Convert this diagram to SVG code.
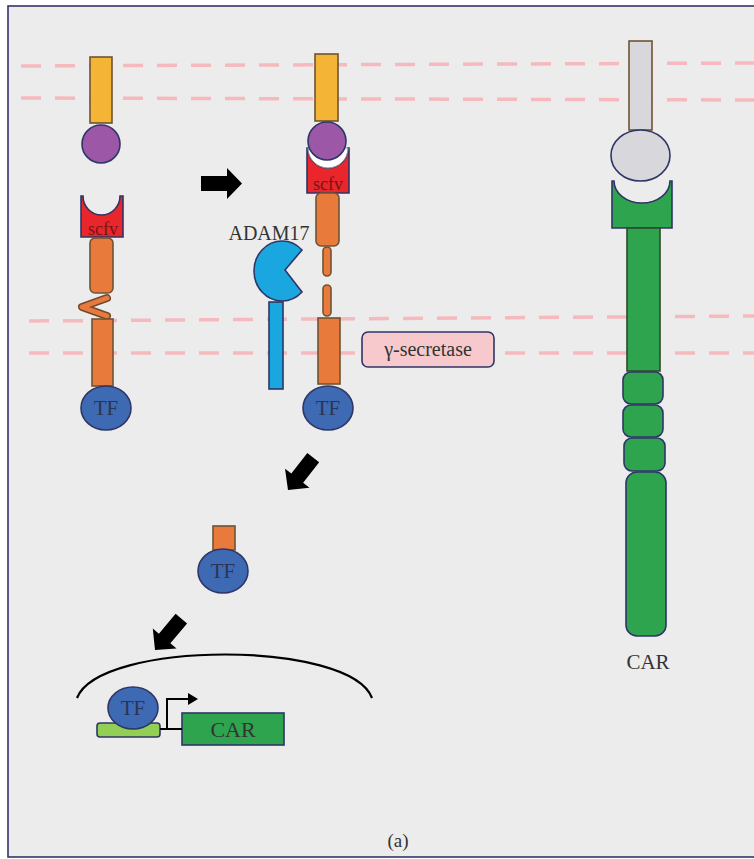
<svg xmlns="http://www.w3.org/2000/svg" width="754" height="859" viewBox="0 0 754 859">
  <style>
    .mem { stroke: #f6b9bd; stroke-width: 3.5; stroke-dasharray: 20 14; fill: none; }
    .edge { stroke: #2f3566; stroke-width: 1.6; }
    .brown { stroke: #6e5434; stroke-width: 1.6; }
    .yellow { fill: #f4b537; }
    .purple { fill: #9c58a6; }
    .red { fill: #e8262b; }
    .orange { fill: #e87a3c; }
    .tf { fill: #3d6ab3; }
    .adam { fill: #1aa7df; }
    .green { fill: #2fa44f; }
    .lgreen { fill: #92cf55; }
    .grey { fill: #d8d8dc; }
    .serif { font-family: "Liberation Serif", "Times New Roman", serif; }
    .tftext { font-size: 21px; fill: #2b3552; text-anchor: middle; }
    .scfv { font-size: 18px; fill: #7a1414; text-anchor: middle; }
    .label { font-size: 20px; fill: #333; text-anchor: middle; }
    .arrow { fill: #000; }
  </style>
  <defs>
    <polygon id="blockArrow" points="-41,-7.5 -15,-7.5 -15,-15.5 0,0 -15,15.5 -15,7.5 -41,7.5"/>
  </defs>

  <!-- page and frame -->
  <rect x="0" y="0" width="754" height="859" fill="#ffffff"/>
  <rect x="8" y="6" width="760" height="851" fill="#ececec" stroke="#34346a" stroke-width="1.6"/>

  <!-- membranes (dashed) -->
  <g id="membranes">
    <line class="mem" x1="21" y1="66" x2="754" y2="63"/>
    <line class="mem" x1="21" y1="98" x2="754" y2="100"/>
    <line class="mem" x1="29" y1="321" x2="754" y2="316"/>
    <line class="mem" x1="29" y1="353" x2="754" y2="353"/>
  </g>

  <!-- unbound synNotch receptor -->
  <g id="receptor-unbound">
    <rect class="yellow brown" x="90" y="57" width="22" height="66"/>
    <circle class="purple edge" cx="101" cy="144" r="19"/>
    <path class="red edge" d="M81,196 L83,196 A18.5,19 0 0 0 120,196 L123,196 L123,237 L81,237 Z"/>
    <text class="serif scfv" x="103" y="235">scfv</text>
    <rect class="orange brown" x="90" y="238" width="23" height="55" rx="5"/>
    <path d="M107,298 L82,307 L107,316" fill="none" stroke="#6e4a2e" stroke-width="8" stroke-linecap="round" stroke-linejoin="round"/>
    <path d="M107,298 L82,307 L107,316" fill="none" stroke="#e87a3c" stroke-width="5" stroke-linecap="round" stroke-linejoin="round"/>
    <rect class="orange brown" x="92" y="319" width="21" height="67"/>
    <ellipse class="tf edge" cx="106" cy="408" rx="25" ry="22"/>
    <text class="serif tftext" x="106" y="415">TF</text>
  </g>

  <!-- ligand-bound receptor being cleaved -->
  <g id="receptor-bound">
    <rect class="yellow brown" x="315" y="54" width="23" height="67"/>
    <path class="red edge" d="M307,148 L308,148 A20,20 0 0 0 348,148 L349,148 L349,193 L307,193 Z"/>
    <path d="M308,148 A20,20 0 0 0 348,148 Z" fill="#ffffff" stroke="#8a8a9a" stroke-width="1"/>
    <circle class="purple edge" cx="327" cy="141" r="19"/>
    <text class="serif scfv" x="328" y="190">scfv</text>
    <rect class="orange brown" x="316" y="193" width="23" height="53" rx="5"/>
    <rect class="orange brown" x="323" y="247" width="8" height="29" rx="4"/>
    <rect class="orange brown" x="323" y="285" width="8" height="31" rx="4"/>
    <rect class="orange brown" x="318" y="318" width="22" height="66"/>
    <ellipse class="tf edge" cx="328" cy="408" rx="25" ry="22"/>
    <text class="serif tftext" x="328" y="415">TF</text>
  </g>

  <!-- ADAM17 protease -->
  <g id="adam17">
    <text class="serif label" x="269" y="240" style="font-size:20px">ADAM17</text>
    <path class="adam edge" d="M285,270 L302,250 A28,30 0 1 0 302,292 Z"/>
    <rect class="adam edge" x="269" y="302" width="14" height="87"/>
  </g>

  <!-- gamma-secretase -->
  <g id="gamma-secretase">
    <rect x="362" y="332" width="132" height="35" rx="6" fill="#f8c9cc" stroke="#2f3566" stroke-width="1.6"/>
    <text class="serif label" x="428" y="356" style="font-size:20px">γ-secretase</text>
  </g>

  <!-- released TF -->
  <g id="released-tf">
    <rect class="orange brown" x="213" y="526" width="22" height="24"/>
    <ellipse class="tf edge" cx="223" cy="571" rx="25" ry="22"/>
    <text class="serif tftext" x="223" y="578">TF</text>
  </g>

  <!-- nucleus with CAR gene -->
  <g id="nucleus">
    <path d="M77,698 C100,640 350,640 372,698" fill="none" stroke="#000" stroke-width="2.2"/>
  </g>
  <g id="promoter">
    <rect class="lgreen edge" x="97" y="723" width="63" height="14" rx="3"/>
    <ellipse class="tf edge" cx="133" cy="708" rx="25" ry="21"/>
    <text class="serif tftext" x="133" y="715">TF</text>
  </g>
  <g id="car-gene">
    <rect class="green edge" x="182" y="713" width="102" height="32"/>
    <text class="serif label" x="233" y="737" style="font-size:22px">CAR</text>
  </g>

  <!-- CAR receptor -->
  <g id="car-receptor">
    <rect class="grey brown" x="629" y="41" width="23" height="89"/>
    <ellipse class="grey edge" cx="640.5" cy="155.5" rx="29.5" ry="25.5"/>
    <path class="green edge" d="M612,181 L614,181 A28,22 0 0 0 670,181 L672,181 L672,228 L612,228 Z"/>
    <rect class="green" x="627" y="228" width="33" height="143" stroke="#2c4a2c" stroke-width="1.6"/>
    <rect class="green edge" x="623" y="372" width="40" height="32" rx="8"/>
    <rect class="green edge" x="623" y="405" width="40" height="32" rx="8"/>
    <rect class="green edge" x="624" y="438" width="41" height="33" rx="8"/>
    <rect class="green edge" x="626" y="472" width="40" height="164" rx="11"/>
    <text class="serif label" x="648" y="669" style="font-size:21px">CAR</text>
  </g>

  <!-- connectors: process arrows and transcription start -->
  <g id="connectors">
    <use href="#blockArrow" class="arrow" transform="translate(242,183.5)"/>
    <use href="#blockArrow" class="arrow" transform="translate(288,490) rotate(128)"/>
    <use href="#blockArrow" class="arrow" transform="translate(155,650) rotate(130)"/>
    <path d="M160,729 H182 M167,729 V699 H189" fill="none" stroke="#000" stroke-width="2"/>
    <polygon points="188,693 198,699 188,705" fill="#000"/>
  </g>

  <text class="serif" x="398" y="847" font-size="19" fill="#333" text-anchor="middle">(a)</text>
</svg>
